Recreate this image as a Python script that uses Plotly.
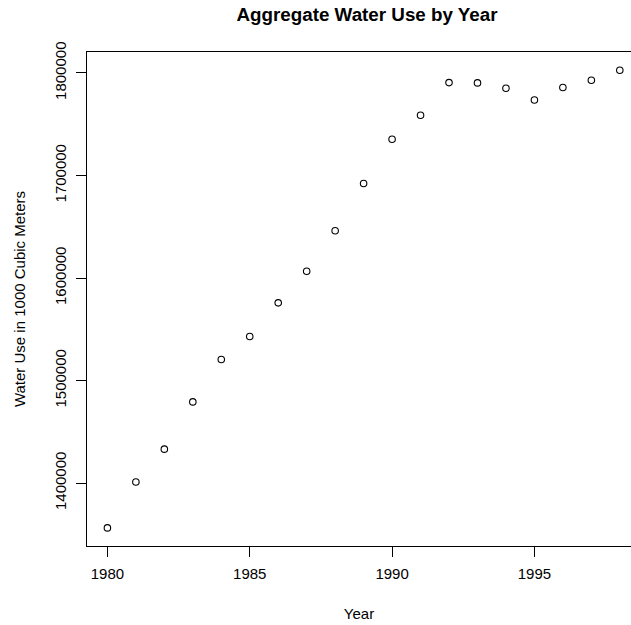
import plotly.graph_objects as go

# Annual aggregate water use (thousand cubic meters)
years = [1980, 1981, 1982, 1983, 1984, 1985, 1986, 1987, 1988, 1989,
         1990, 1991, 1992, 1993, 1994, 1995, 1996, 1997, 1998]
water_use = [1356300, 1401000, 1433100, 1479200, 1520500, 1542900, 1575800,
             1606600, 1646100, 1692200, 1735400, 1758700, 1790600, 1790300,
             1785100, 1773700, 1785800, 1792900, 1802600]

x_ticks = [1980, 1985, 1990, 1995]
y_ticks = [1400000, 1500000, 1600000, 1700000, 1800000]
y_tick_labels = [str(v) for v in y_ticks]

FONT = "Liberation Sans, Arial, Helvetica, sans-serif"

fig = go.Figure(
    go.Scatter(
        x=years,
        y=water_use,
        mode="markers",
        marker=dict(symbol="circle-open", size=6.5, color="black",
                    line=dict(width=1.1, color="black")),
        showlegend=False,
        cliponaxis=False,
    )
)

fig.update_layout(
    width=631,
    height=625,
    margin=dict(l=87, r=0, t=52, b=79, pad=0),
    paper_bgcolor="white",
    plot_bgcolor="white",
    font=dict(family=FONT, size=15, color="black"),
    title=dict(
        text="<b>Aggregate Water Use by Year</b>",
        x=367 / 631,
        xanchor="center",
        y=1 - 14 / 625,
        yanchor="middle",
        xref="container",
        yref="container",
        font=dict(family=FONT, size=18.8, color="black"),
    ),
)

fig.update_xaxes(
    range=[1979.283, 1998.393],
    tickmode="array",
    tickvals=x_ticks,
    ticktext=[str(t) for t in x_ticks],
    ticks="outside",
    ticklen=10,
    tickwidth=1,
    tickcolor="black",
    showline=True,
    linecolor="black",
    linewidth=1,
    mirror=True,
    showgrid=False,
    zeroline=False,
    tickfont=dict(size=15),
    ticklabelstandoff=4,
    title=dict(text="Year", font=dict(size=15), standoff=27),
)

fig.update_yaxes(
    range=[1338627, 1820458],
    tickmode="array",
    tickvals=y_ticks,
    ticktext=y_tick_labels,
    tickangle=-90,
    ticks="outside",
    ticklen=10,
    tickwidth=1,
    tickcolor="black",
    showline=True,
    linecolor="black",
    linewidth=1,
    mirror=False,
    showgrid=False,
    zeroline=False,
    tickfont=dict(size=15),
    ticklabelstandoff=4,
    title=dict(text="Water Use in 1000 Cubic Meters", font=dict(size=15), standoff=22),
)

fig.write_html("out.html")
